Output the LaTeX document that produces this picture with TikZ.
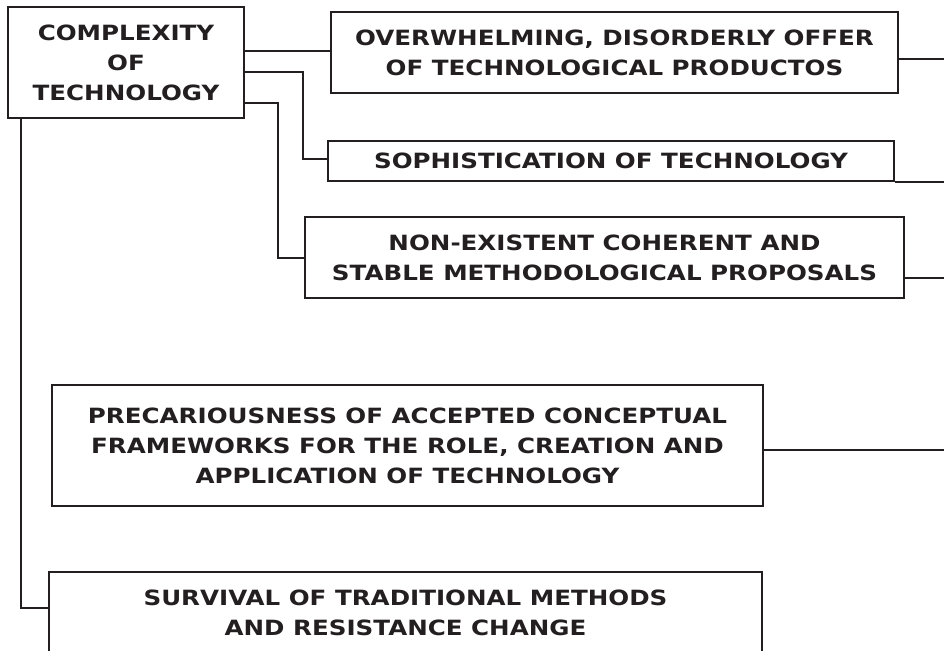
\documentclass[tikz,border=0pt]{standalone}
\usepackage{fontspec}
\newfontfamily\vfont[FakeStretch=1.17]{DejaVu Sans}
\usetikzlibrary{calc}
\definecolor{ink}{HTML}{231F20}
\tikzset{
  box/.style={draw=ink, line width=2pt, text=ink, inner sep=0pt, anchor=north west,
    align=center, font=\vfont\bfseries\fontsize{21}{30}\selectfont},
  link/.style={draw=ink, line width=2pt}
}
\begin{document}
\begin{tikzpicture}[x=1pt,y=-1pt]
\useasboundingbox (0,0) rectangle (944,650);
\clip (0,0) rectangle (944,650);
\coordinate (r) at (944,0);
\node[box, minimum width=236pt, minimum height=111pt] (top) at (7,6) {COMPLEXITY\\OF\\TECHNOLOGY};
\node[box, minimum width=567pt, minimum height=81pt] (b1) at (330,11) {OVERWHELMING, DISORDERLY OFFER\\OF TECHNOLOGICAL PRODUCTOS};
\node[box, minimum width=566pt, minimum height=40pt] (b2) at (327,140) {SOPHISTICATION OF TECHNOLOGY};
\node[box, minimum width=599pt, minimum height=81pt] (b3) at (304,216) {NON-EXISTENT COHERENT AND\\STABLE METHODOLOGICAL PROPOSALS};
\node[box, minimum width=711pt, minimum height=121pt] (b4) at (51,384) {PRECARIOUSNESS OF ACCEPTED CONCEPTUAL\\FRAMEWORKS FOR THE ROLE, CREATION AND\\APPLICATION OF TECHNOLOGY};
\node[box, minimum width=713pt, minimum height=82pt] (b5) at (48,571) {SURVIVAL OF TRADITIONAL METHODS\\AND RESISTANCE CHANGE};
% connectors from top box
\draw[link] ([yshift=11.5pt]top.east) -- ([yshift=11.5pt]top.east -| b1.west);
\draw[link] ([yshift=-9.5pt]top.east) -- ([yshift=-9.5pt,xshift=58pt]top.east) |- ([yshift=2pt]b2.west);
\draw[link] ([yshift=-40.5pt]top.east) -- ([yshift=-40.5pt,xshift=33pt]top.east) |- (b3.west);
\draw[link] ([xshift=14pt]top.south west) |- ([yshift=-37pt]b5.north west);
% lines leaving to the right
\draw[link] ([yshift=-6.5pt]b1.east) -- ([yshift=-6.5pt]b1.east -| r);
\draw[link] (b2.south east) -- (b2.south east -| r);
\draw[link] ([yshift=-20.5pt]b3.east) -- ([yshift=-20.5pt]b3.east -| r);
\draw[link] ([yshift=-4.5pt]b4.east) -- ([yshift=-4.5pt]b4.east -| r);
\end{tikzpicture}
\end{document}
